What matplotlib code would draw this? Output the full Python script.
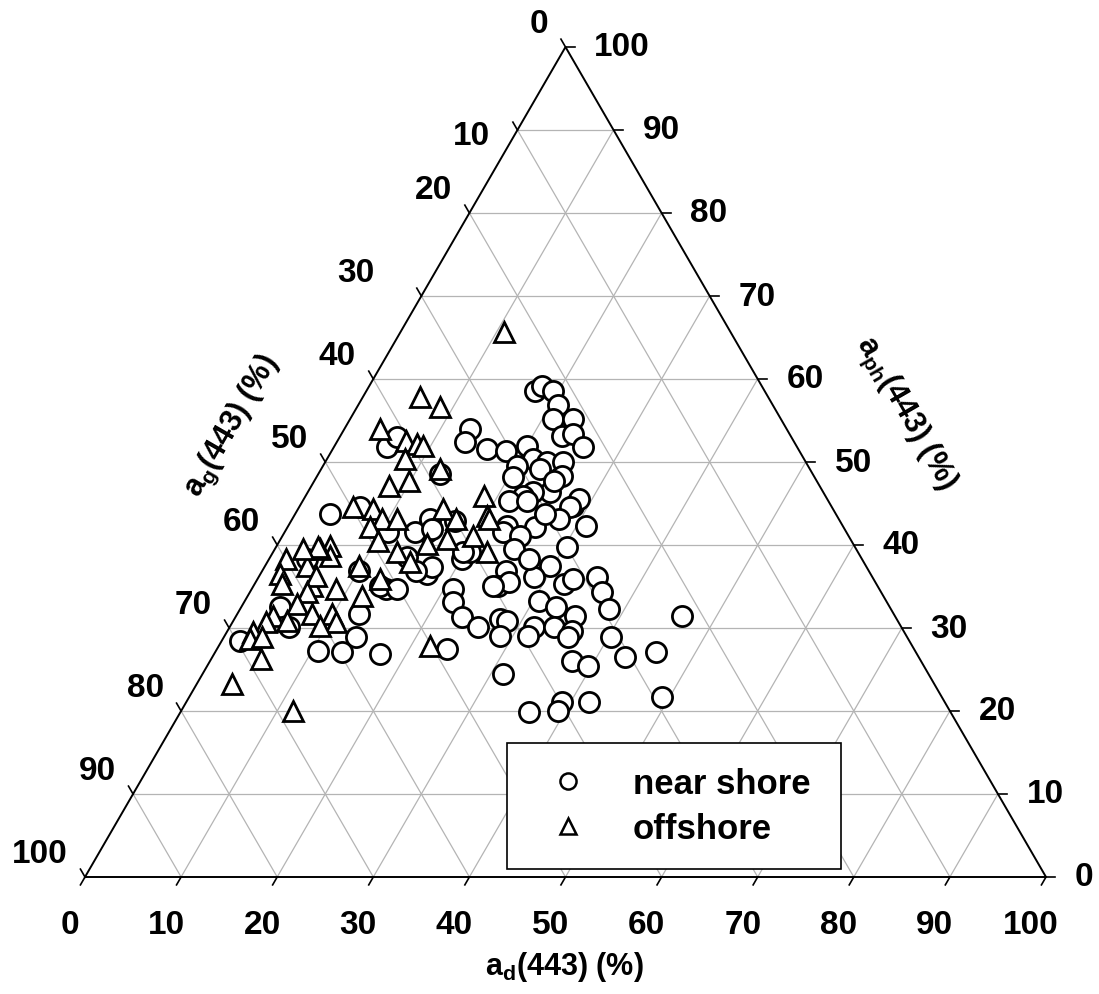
import numpy as np
import matplotlib
matplotlib.use("Agg")
import matplotlib.pyplot as plt

plt.rcParams['font.family'] = ['Liberation Sans', 'DejaVu Sans']
plt.rcParams['font.weight'] = 'bold'
plt.rcParams['mathtext.fontset'] = 'custom'
plt.rcParams['mathtext.rm'] = 'Liberation Sans'

# near shore samples: a_d(443) and a_ph(443) in percent (a_g = 100 - a_d - a_ph)
near_d = [17.5, 18.0, 19.4, 20.8, 21.1, 23.2, 23.1, 24.1, 25.9, 13.1, 13.3, 16.0, 18.2, 20.0,
          21.4, 20.2, 20.4, 23.1, 24.7, 25.5, 25.2, 23.4, 22.6, 21.5, 28.4, 28.7, 23.3, 28.2,
          27.8, 31.0, 25.7, 22.8, 22.7, 24.7, 14.6, 17.0, 14.8, 30.3, 24.9, 20.1, 20.5, 17.3,
          17.5, 29.6, 28.7, 25.4, 25.4, 26.4, 32.2, 32.8, 35.2, 36.6, 38.4, 20.9, 21.7, 30.6,
          32.8, 35.3, 23.6, 25.8, 27.6, 28.5, 28.7, 31.7, 31.6, 33.8, 35.9, 35.8, 40.3, 23.9,
          37.7, 39.6, 31.2, 39.1, 39.2, 41.9, 36.3, 46.4, 42.9, 45.9, 49.2, 3.6, 6.3, 10.7,
          13.5, 14.2, 16.0, 10.1, 4.0, 14.0, 12.7, 13.8, 13.2, 17.2, 6.2, 1.9, 4.0, 5.5,
          6.0, 12.6, 14.3, 15.2, 19.7, 13.1, 15.1, 24.9, 10.6, 22.7, 25.0, 26.0, 27.1]
near_ph = [58.6, 59.2, 58.6, 56.9, 55.2, 55.2, 53.1, 53.4, 51.8, 54.0, 52.4, 51.6, 51.3, 51.9,
           50.4, 49.5, 48.2, 50.0, 50.0, 48.3, 46.4, 46.4, 45.9, 45.3, 44.7, 45.5, 45.3, 44.6,
           43.1, 42.3, 42.2, 42.3, 41.6, 41.1, 42.5, 42.9, 41.6, 39.8, 39.5, 38.3, 39.2, 36.5,
           37.3, 37.5, 36.1, 36.9, 35.1, 35.5, 35.3, 35.9, 36.1, 34.3, 32.3, 34.7, 33.1, 33.3,
           32.5, 31.4, 31.3, 30.1, 31.1, 30.8, 29.0, 30.1, 29.0, 30.1, 29.6, 28.9, 28.9, 27.5,
           26.0, 25.4, 24.5, 21.1, 20.0, 21.1, 19.9, 31.4, 26.5, 27.1, 21.7, 43.7, 44.6, 41.6,
           41.6, 38.6, 36.9, 36.9, 38.3, 34.7, 31.7, 28.9, 27.1, 26.9, 30.1, 28.4, 32.5, 51.8,
           53.0, 48.6, 43.1, 41.9, 39.2, 35.1, 34.7, 35.1, 27.2, 49.2, 47.7, 43.7, 38.3]

# offshore samples
off_d = [10.8, 6.0, 8.6, 3.7, 7.2, 8.4, 8.1, 8.1, 9.9, 9.2, 12.3, 18.6, 15.1, 20.1,
         5.6, 7.8, 9.4, 10.9, 8.6, 10.2, 12.9, 15.5, 20.5, 19.8, 22.2, 5.5, 6.1, 4.7,
         9.8, 12.7, 8.8, 6.1, 17.1, 17.3, 14.8, 1.8, 2.0, 2.9, 4.4, 4.3, 5.9, 5.9,
         5.6, 3.9, 3.5, 2.7, 2.8, 4.0, 5.6, 7.8, 9.9, 10.8, 9.4, 11.9, 5.2, 3.6,
         11.6, 22.0, 2.9]
off_ph = [65.7, 57.8, 56.6, 54.0, 52.5, 52.2, 50.4, 47.1, 47.7, 51.9, 49.2, 45.9, 44.3, 43.5,
          44.6, 44.3, 43.1, 43.1, 42.2, 40.5, 39.2, 40.1, 43.1, 41.1, 39.2, 39.9, 38.7, 39.5,
          37.5, 35.9, 34.7, 35.1, 43.1, 40.7, 38.0, 38.3, 36.5, 35.3, 37.5, 39.8, 36.3, 34.3,
          32.9, 31.4, 30.7, 29.5, 28.7, 28.9, 30.8, 31.7, 31.7, 30.7, 30.2, 33.9, 26.3, 23.3,
          20.0, 27.8, 39.5]

ticks = list(range(0, 101, 10))
H = np.sqrt(3) / 2


def tern(d, ph):
    # a_d runs along the bottom, a_ph up to the top vertex
    d = np.asarray(d, dtype=float)
    ph = np.asarray(ph, dtype=float)
    return d + ph / 2, ph * H


fig = plt.figure(figsize=(10.99, 9.95), dpi=100)
ax = fig.add_axes([85 / 1099, 117 / 995, 961 / 1099, 830 / 995])
ax.set_xlim(0, 100)
ax.set_ylim(0, 100 * H)
ax.axis('off')

grid_kw = dict(color='#b4b4b4', lw=0.9, zorder=1)
for v in ticks[1:-1]:
    ax.plot(*tern([0, 100 - v], [v, v]), **grid_kw)          # constant a_ph
    ax.plot(*tern([v, v], [0, 100 - v]), **grid_kw)          # constant a_d
    ax.plot(*tern([100 - v, 0], [0, 100 - v]), **grid_kw)    # constant a_g

ax.plot(*tern([0, 100, 0, 0], [0, 0, 100, 0]), color='black', lw=1.4, zorder=2, clip_on=False)

# the a_g labels at 10 and 30 sit a little off the regular spacing in the original
left_nudge = {10: (-1.1, -3.1), 30: (-3.1, 0.0)}

t = 0.95
fs = 24
for v in ticks:
    ax.plot(*tern([v, v], [0, -t]), color='black', lw=1.2, clip_on=False)
    ax.plot(*tern([100 - v, 100 - v + t], [v, v]), color='black', lw=1.2, clip_on=False)
    ax.plot(*tern([0, -t], [100 - v, 100 - v + t]), color='black', lw=1.2, clip_on=False)

    x, y = tern(v, 0)
    ax.text(x - 1.56, y - 5.0, str(v), ha='center', va='center', fontsize=fs)
    x, y = tern(100 - v, v)
    ax.text(x + 3.0, y, str(v), ha='left', va='center', fontsize=fs)
    x, y = tern(0, 100 - v)
    nx, ny = left_nudge.get(v, (0, 0))
    ax.text(x - 1.8 + nx, y + 2.5 + ny, str(v), ha='right', va='center', fontsize=fs)

ax.text(49.9, -9.3, r'a$_\mathrm{d}$(443) (%)', ha='center', va='center', fontsize=22)
ax.text(15.3, 47.1, r'a$_\mathrm{g}$(443) (%)', ha='center', va='center', fontsize=22, rotation=60)
ax.text(85.3, 48.5, r'a$_\mathrm{ph}$(443) (%)', ha='center', va='center', fontsize=22, rotation=-60)

mk = dict(linestyle='none', mfc='white', mec='black', mew=2.0, zorder=3, clip_on=False)
ax.plot(*tern(near_d, near_ph), marker='o', ms=14.5, label='near shore', **mk)
ax.plot(*tern(off_d, off_ph), marker='^', ms=14.5, label='offshore', **mk)

leg = ax.legend(loc='lower left', bbox_to_anchor=(0.439, 0.0096, 0.348, 0.153), mode='expand',
                borderaxespad=0, fontsize=25, markerscale=0.8, handlelength=2.1,
                handletextpad=0.83, borderpad=0.7, labelspacing=0.33, fancybox=False,
                framealpha=1, edgecolor='black')
leg.get_frame().set_linewidth(1.2)
for h in leg.legend_handles:
    h.set_markeredgewidth(1.8)

fig.savefig('out.png', dpi=100)
